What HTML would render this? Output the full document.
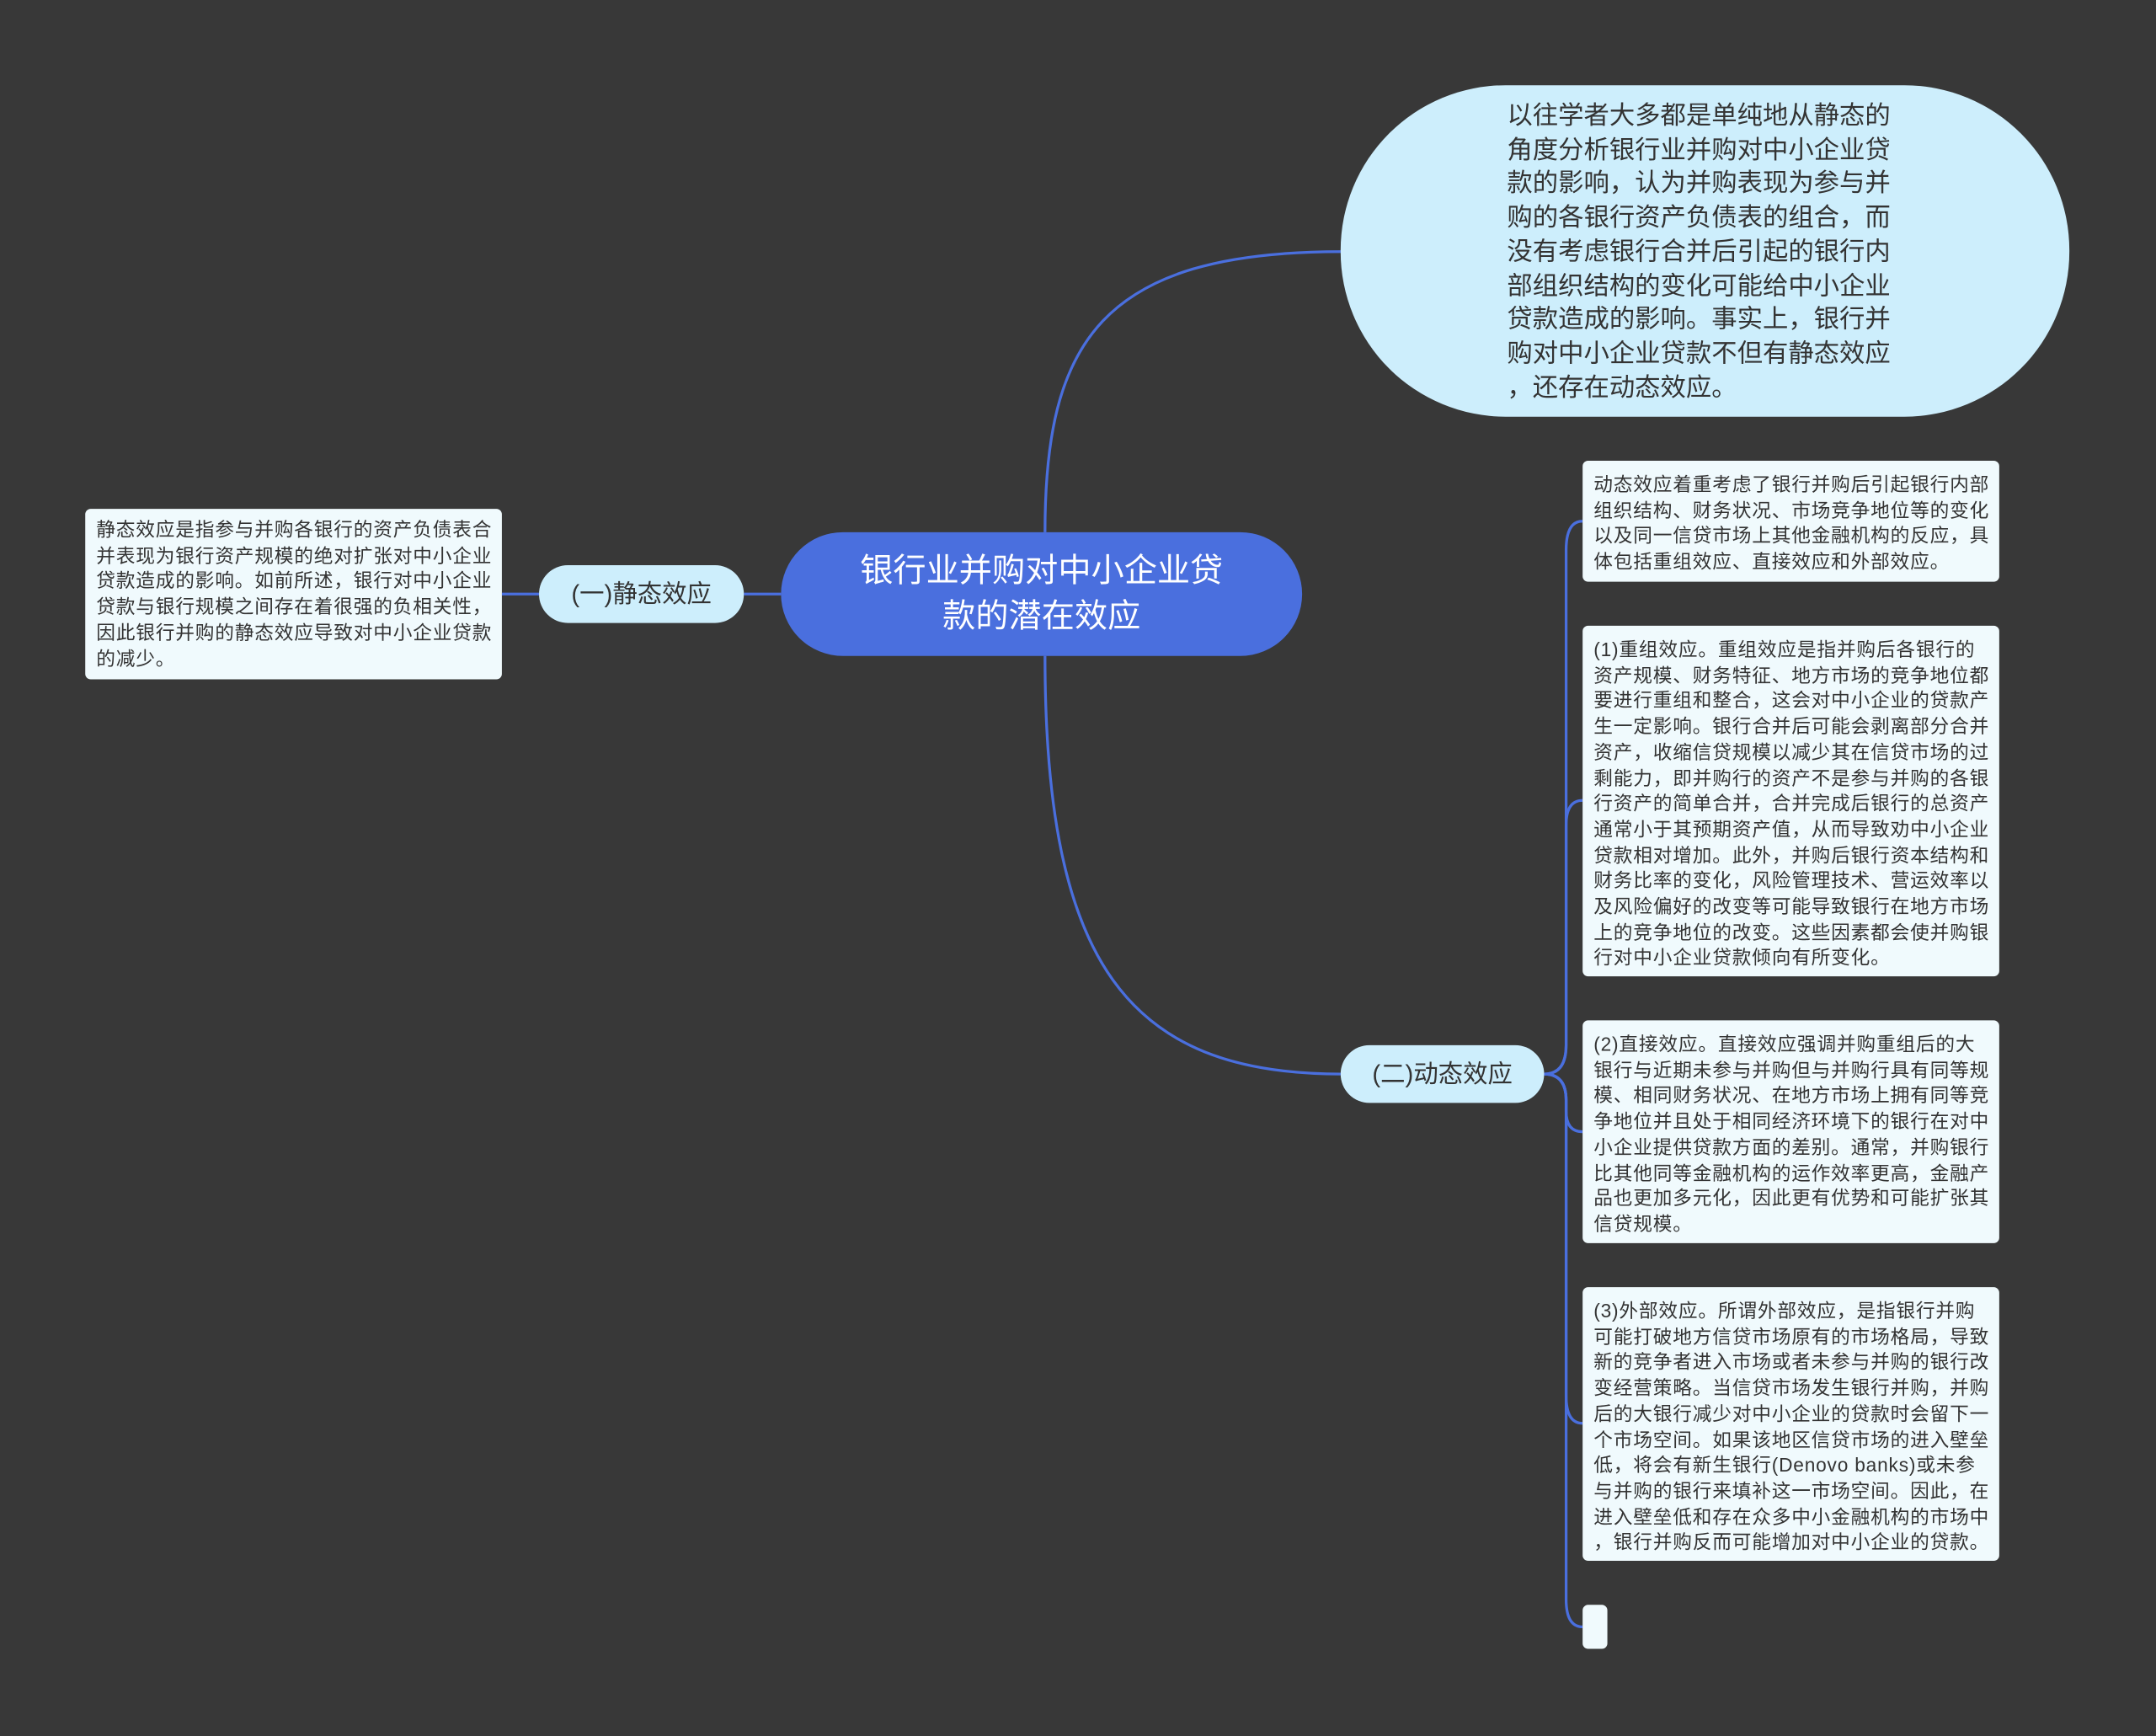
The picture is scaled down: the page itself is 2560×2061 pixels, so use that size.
<!DOCTYPE html>
<html><head><meta charset="utf-8"><style>
html,body{margin:0;padding:0;background:#383838;}
body{width:2560px;height:2061px;overflow:hidden;position:relative;}
#w{position:absolute;left:0;top:0;width:1568px;height:1262px;transform:scale(1.63265);transform-origin:0 0;font-family:"Liberation Sans","Noto Sans CJK SC",sans-serif;}
.n{position:absolute;box-sizing:border-box;color:#333;white-space:nowrap;}
.leaf{background:#f0fafd;border-radius:4px;font-size:13.9px;line-height:18.7px;padding:8px 0 0 8px;letter-spacing:0.5px;}
.br{background:#cdeefc;border-radius:21px;font-size:18px;text-align:center;line-height:42px;}
</style></head><body><div id="w">
<svg width="1568" height="1262" style="position:absolute;left:0;top:0" fill="none" stroke="#4a6fde" stroke-width="2">
<path d="M760 387 C760 250 800 183 975 183"/>
<path d="M760 477 C760 700 820 781 975 781"/>
<path d="M568 432 L541 432"/>
<path d="M392 432 L365 432"/>
<path d="M1123 781 Q1139 781 1139 760 L1139 400 Q1139 379 1151 379"/>
<path d="M1123 781 Q1139 781 1139 760 L1139 600 Q1139 582 1151 582"/>
<path d="M1123 781 Q1139 781 1139 800 L1139 808 Q1139 823 1151 823"/>
<path d="M1123 781 Q1139 781 1139 800 L1139 1015 Q1139 1035 1151 1035"/>
<path d="M1123 781 Q1139 781 1139 800 L1139 1163 Q1139 1183 1151 1183"/>
</svg>
<div class="n" style="left:975px;top:62px;width:530px;height:241px;background:#cdeefc;border-radius:120px;font-size:18.6px;line-height:24.7px;padding:10px 0 0 121px;">以往学者大多都是单纯地从静态的<br>角度分析银行业并购对中小企业贷<br>款的影响，认为并购表现为参与并<br>购的各银行资产负债表的组合，而<br>没有考虑银行合并后引起的银行内<br>部组织结构的变化可能给中小企业<br>贷款造成的影响。事实上，银行并<br>购对中小企业贷款不但有静态效应<br>，还存在动态效应。</div>
<div class="n" style="left:568px;top:387px;width:379px;height:90px;background:#4a6fde;border-radius:45px;color:#fff;font-size:24px;line-height:33px;text-align:center;padding-top:12px;">银行业并购对中小企业贷<br>款的潜在效应</div>
<div class="n br" style="left:392px;top:411px;width:149px;height:42px;">(一)静态效应</div>
<div class="n br" style="left:975px;top:760px;width:148px;height:42px;">(二)动态效应</div>
<div class="n leaf" style="left:62px;top:370px;width:303px;height:124px;padding-top:6px;">静态效应是指参与并购各银行的资产负债表合<br>并表现为银行资产规模的绝对扩张对中小企业<br>贷款造成的影响。如前所述，银行对中小企业<br>贷款与银行规模之间存在着很强的负相关性，<br>因此银行并购的静态效应导致对中小企业贷款<br>的减少。</div>
<div class="n leaf" style="left:1151px;top:335px;width:303px;height:88px;">动态效应着重考虑了银行并购后引起银行内部<br>组织结构、财务状况、市场竞争地位等的变化<br>以及同一信贷市场上其他金融机构的反应，具<br>体包括重组效应、直接效应和外部效应。</div>
<div class="n leaf" style="left:1151px;top:455px;width:303px;height:255px;">(1)重组效应。重组效应是指并购后各银行的<br>资产规模、财务特征、地方市场的竞争地位都<br>要进行重组和整合，这会对中小企业的贷款产<br>生一定影响。银行合并后可能会剥离部分合并<br>资产，收缩信贷规模以减少其在信贷市场的过<br>剩能力，即并购行的资产不是参与并购的各银<br>行资产的简单合并，合并完成后银行的总资产<br>通常小于其预期资产值，从而导致劝中小企业<br>贷款相对增加。此外，并购后银行资本结构和<br>财务比率的变化，风险管理技术、营运效率以<br>及风险偏好的改变等可能导致银行在地方市场<br>上的竞争地位的改变。这些因素都会使并购银<br>行对中小企业贷款倾向有所变化。</div>
<div class="n leaf" style="left:1151px;top:742px;width:303px;height:162px;">(2)直接效应。直接效应强调并购重组后的大<br>银行与近期未参与并购但与并购行具有同等规<br>模、相同财务状况、在地方市场上拥有同等竞<br>争地位并且处于相同经济环境下的银行在对中<br>小企业提供贷款方面的差别。通常，并购银行<br>比其他同等金融机构的运作效率更高，金融产<br>品也更加多元化，因此更有优势和可能扩张其<br>信贷规模。</div>
<div class="n leaf" style="left:1151px;top:936px;width:303px;height:199px;">(3)外部效应。所谓外部效应，是指银行并购<br>可能打破地方信贷市场原有的市场格局，导致<br>新的竞争者进入市场或者未参与并购的银行改<br>变经营策略。当信贷市场发生银行并购，并购<br>后的大银行减少对中小企业的贷款时会留下一<br>个市场空间。如果该地区信贷市场的进入壁垒<br>低，将会有新生银行(Denovo banks)或未参<br>与并购的银行来填补这一市场空间。因此，在<br>进入壁垒低和存在众多中小金融机构的市场中<br>，银行并购反而可能增加对中小企业的贷款。</div>
<div class="n" style="left:1151px;top:1167px;width:18px;height:32px;background:#f0fafd;border-radius:4px;"></div>
</div></body></html>
